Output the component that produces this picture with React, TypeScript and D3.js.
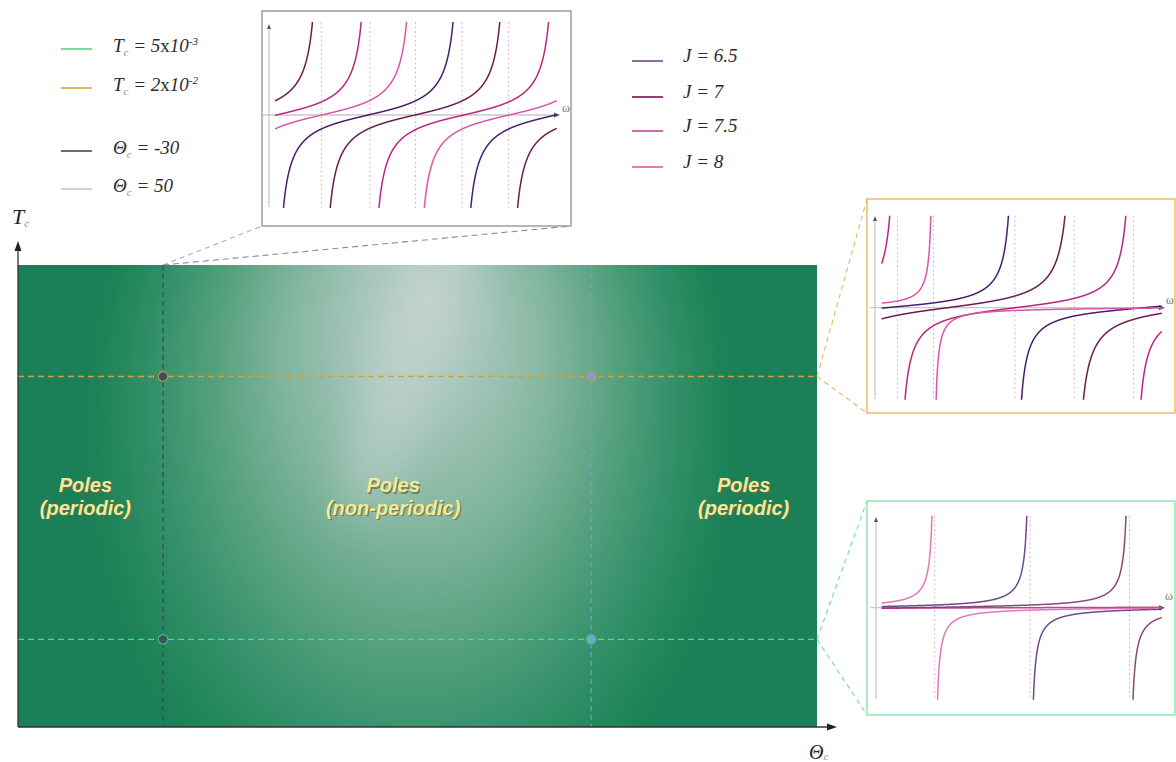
import React from "react";
import * as d3 from "d3";

const WIDTH = 1176;
const HEIGHT = 762;

// Sampled points of the (Θc, Tc) plane
const thetaValues = [-30, 50];
const tcValues = [5e-3, 2e-2];
const jValues = [6.5, 7, 7.5, 8];

// Region annotations
const regionTitles = ["Poles", "Poles", "Poles"];
const regionSubtitles = ["(periodic)", "(non-periodic)", "(periodic)"];
const regionTheta = [-44.5, 13, 78.5];

// Dispersion branches, one entry per J: y = amp * tan(pi * (w - zero) / period)
// Θc = -30 (shown above the map)
const thetaLowZero = [3.31, 4.97, 0.05, 1.66];
const thetaLowPeriod = [6.65, 6.65, 6.65, 6.65];
const thetaLowAmp = [0.15, 0.15, 0.15, 0.15];
// Tc = 2x10^-2
const tcHighZero = [9.36, 11.4, 4.775, 11.35];
const tcHighPeriod = [9.2, 9.05, 8.43, 19];
const tcHighAmp = [0.08, 0.115, 0.102, 0.0157];
// Tc = 5x10^-3
const tcLowZero = [13.05, 16.6, 5, 11.42];
const tcLowPeriod = [15.5, 15.5, 60, 19.05];
const tcLowAmp = [0.024, 0.0254, 0.02, 0.0166];

// Styling
const jColors = ["#4a1c6e", "#6c1a52", "#bb2580", "#dd55a6"];
const jLegendColors = ["#8f6ba6", "#9b3b74", "#d26aa9", "#de7bb9"];
const thetaLineColors = ["#34495c", "#7d9bcc"];
const thetaDotColors = ["#3a5064", "#7f9fd2"];
const thetaLegendColors = ["#5b6f82", "#c9d3df"];
const tcLineColors = ["#3ee38c", "#cda23a"];
const tcDotStroke = ["#2fc774", "#c49a38"];
const tcLegendColors = ["#6fe0a1", "#e6b752"];
const tcBoxColors = ["#86e3ad", "#e9b95c"];

const plotL = 18;
const plotR = 817;
const plotT = 265;
const plotB = 727;

const xTheta = d3.scaleLinear().domain([-57.1, 92.2]).range([plotL, plotR]);
const yTc = d3.scaleLinear().domain([0, 0.02636]).range([plotB, plotT]);

const MATH_FONT = "'Liberation Serif', 'DejaVu Serif', serif";
const SANS_FONT = "'Liberation Sans', Arial, sans-serif";

type InsetLayout = {
  id: string;
  bx: number;
  by: number;
  bw: number;
  bh: number;
  x0: number;
  x1: number;
  yc: number;
  half: number;
  yAxisX: number;
  yAxisTop: number;
  yAxisBot: number;
  xAxisL: number;
  xAxisR: number;
  omegaX: number;
  omegaY: number;
};

const topLayout: InsetLayout = {
  id: "thetaLow",
  bx: 262, by: 11, bw: 309, bh: 215,
  x0: 275, x1: 556.7, yc: 115, half: 93,
  yAxisX: 269, yAxisTop: 24, yAxisBot: 207,
  xAxisL: 263, xAxisR: 560,
  omegaX: 562, omegaY: 112,
};
const tcHighLayout: InsetLayout = {
  id: "tcHigh",
  bx: 867, by: 199, bw: 308, bh: 214,
  x0: 881.7, x1: 1161.7, yc: 307.7, half: 92,
  yAxisX: 875, yAxisTop: 216, yAxisBot: 399,
  xAxisL: 870, xAxisR: 1165,
  omegaX: 1166, omegaY: 304,
};
const tcLowLayout: InsetLayout = {
  id: "tcLow",
  bx: 867, by: 501, bw: 308, bh: 214,
  x0: 881.7, x1: 1161.7, yc: 607.7, half: 92,
  yAxisX: 876, yAxisTop: 517, yAxisBot: 699,
  xAxisL: 870, xAxisR: 1165,
  omegaX: 1165, omegaY: 600,
};

function Inset(props: {
  layout: InsetLayout;
  zeros: number[];
  periods: number[];
  amps: number[];
  border: string;
  curveOpacity?: number;
}) {
  const { layout: L, zeros, periods, amps, border } = props;
  const xs = d3.scaleLinear().domain([0, 10]).range([L.x0, L.x1]);
  const ys = d3.scaleLinear().domain([-1, 1]).range([L.yc + L.half, L.yc - L.half]);
  const samples = d3.range(0, 10.0001, 0.002);
  const line = d3
    .line<[number, number]>()
    .defined((d) => Math.abs(d[1]) <= 1.3)
    .x((d) => xs(d[0]))
    .y((d) => ys(d[1]));

  const asymptotes: number[] = [];
  jValues.forEach((_, i) => {
    const p = periods[i];
    const first = zeros[i] + p / 2;
    for (let k = -4; k <= 4; k++) {
      const a = first + k * p;
      if (a > 0.3 && a < 9.9) asymptotes.push(a);
    }
  });

  const clipId = `clip-${L.id}`;
  return (
    <g>
      <rect x={L.bx} y={L.by} width={L.bw} height={L.bh} fill="#ffffff" stroke={border} strokeWidth={1.4} />
      <defs>
        <clipPath id={clipId}>
          <rect x={L.x0 - 3} y={L.yc - L.half} width={L.x1 - L.x0 + 6} height={2 * L.half} />
        </clipPath>
      </defs>
      {asymptotes.map((a, i) => (
        <line
          key={`as${i}`}
          x1={xs(a)}
          x2={xs(a)}
          y1={L.yc - L.half}
          y2={L.yc + L.half}
          stroke="#dba9c8"
          strokeWidth={0.9}
          strokeDasharray="2,2.5"
        />
      ))}
      {/* axes */}
      <line x1={L.xAxisL} x2={L.xAxisR - 4} y1={L.yc} y2={L.yc} stroke="#c9c9c9" strokeWidth={1.3} />
      <path d={`M${L.xAxisR},${L.yc} l-6,-2.5 l0,5 z`} fill="#555" />
      <line x1={L.yAxisX} x2={L.yAxisX} y1={L.yAxisBot} y2={L.yAxisTop + 4} stroke="#bdbdbd" strokeWidth={1.1} />
      <path d={`M${L.yAxisX},${L.yAxisTop} l-2,5 l4,0 z`} fill="#555" />
      <text x={L.omegaX} y={L.omegaY} fontFamily={MATH_FONT} fontSize={12} fill="#777">
        ω
      </text>
      <g clipPath={`url(#${clipId})`}>
        {jValues.map((_, i) => {
          const pts: [number, number][] = samples.map((w) => [
            w,
            amps[i] * Math.tan((Math.PI * (w - zeros[i])) / periods[i]),
          ]);
          return (
            <path
              key={`c${i}`}
              d={line(pts) || ""}
              fill="none"
              stroke={jColors[i]}
              strokeOpacity={props.curveOpacity ?? 1}
              strokeWidth={1.5}
            />
          );
        })}
      </g>
    </g>
  );
}

function tcParts(v: number) {
  const exp = Math.floor(Math.log10(v) + 1e-9);
  const mant = Math.round((v / Math.pow(10, exp)) * 100) / 100;
  return { mant, exp };
}

function TcLabel(props: { x: number; y: number; value: number }) {
  const { mant, exp } = tcParts(props.value);
  return (
    <text x={props.x} y={props.y} fontFamily={MATH_FONT} fontSize={19} fill="#2b2b2b">
      <tspan fontStyle="italic">T</tspan>
      <tspan fontSize={11} dy={4} fill="#8a8a8a" fontStyle="italic">c</tspan>
      <tspan dy={-4} fontStyle="italic">{` = ${mant}`}</tspan>
      <tspan>x</tspan>
      <tspan fontStyle="italic">10</tspan>
      <tspan fontSize={11} dy={-7} fontStyle="italic">{`${exp}`}</tspan>
    </text>
  );
}

function ThetaLabel(props: { x: number; y: number; value: number }) {
  return (
    <text x={props.x} y={props.y} fontFamily={MATH_FONT} fontSize={19} fill="#2b2b2b" fontStyle="italic">
      <tspan>Θ</tspan>
      <tspan fontSize={11} dy={4} fill="#8a8a8a">c</tspan>
      <tspan dy={-4}>{` = ${props.value}`}</tspan>
    </text>
  );
}

export default function App() {
  const tcHighY = yTc(tcValues[1]);
  const tcLowY = yTc(tcValues[0]);
  const thetaLowX = xTheta(thetaValues[0]);

  const leftLegendY = [49, 88, 151, 189];
  const rightLegendY = [61, 97, 131, 167];

  return (
    <svg width={WIDTH} height={HEIGHT} style={{ display: "block", position: "absolute", left: 0, top: 0 }}>
      <defs>
        <clipPath id="mainClip">
          <rect x={plotL} y={plotT} width={plotR - plotL} height={plotB - plotT} />
        </clipPath>
        <radialGradient
          id="glow"
          gradientUnits="userSpaceOnUse"
          cx={410}
          cy={430}
          r={325}
          fx={425}
          fy={330}
          gradientTransform="translate(410 430) scale(1 1.35) translate(-410 -430)"
        >
          <stop offset="0" stopColor="#bbcec9" />
          <stop offset="0.2" stopColor="#a4c5b8" />
          <stop offset="0.42" stopColor="#80b49d" />
          <stop offset="0.62" stopColor="#55a07f" />
          <stop offset="0.8" stopColor="#33906a" />
          <stop offset="0.93" stopColor="#22855b" />
          <stop offset="1" stopColor="#1b8057" />
        </radialGradient>
        <filter id="streakBlur" x="-100%" y="-100%" width="300%" height="300%">
          <feGaussianBlur stdDeviation={22} />
        </filter>
      </defs>

      {/* phase map */}
      <g clipPath="url(#mainClip)">
        <rect x={plotL} y={plotT} width={plotR - plotL} height={plotB - plotT} fill="url(#glow)" />
        <ellipse
          cx={408}
          cy={360}
          rx={32}
          ry={160}
          fill="#cad7d4"
          opacity={0.55}
          filter="url(#streakBlur)"
          transform="rotate(18 408 360)"
        />
      </g>

      {/* sampled lines */}
      {tcValues.map((tc, i) => (
        <line
          key={`h${i}`}
          x1={plotL}
          x2={plotR}
          y1={yTc(tc)}
          y2={yTc(tc)}
          stroke={tcLineColors[i]}
          strokeWidth={1.4}
          strokeDasharray="6,4"
        />
      ))}
      {thetaValues.map((t, i) => (
        <line
          key={`v${i}`}
          x1={xTheta(t)}
          x2={xTheta(t)}
          y1={plotT}
          y2={plotB}
          stroke={thetaLineColors[i]}
          strokeWidth={1.2}
          strokeDasharray="5,4"
        />
      ))}
      {tcValues.map((tc, i) =>
        thetaValues.map((t, k) => (
          <circle
            key={`d${i}-${k}`}
            cx={xTheta(t)}
            cy={yTc(tc)}
            r={4.8}
            fill={thetaDotColors[k]}
            stroke={tcDotStroke[i]}
            strokeWidth={1.2}
          />
        ))
      )}

      {/* region labels */}
      {regionTheta.map((t, i) => (
        <g key={`r${i}`} fontFamily={SANS_FONT} fontWeight="bold" fontStyle="italic" fontSize={20} textAnchor="middle">
          <text x={xTheta(t) + 1.5} y={493.5} fill="#6a6a45" opacity={0.75}>
            <tspan x={xTheta(t) + 1.5}>{regionTitles[i]}</tspan>
            <tspan x={xTheta(t) + 1.5} dy={22.5}>{regionSubtitles[i]}</tspan>
          </text>
          <text x={xTheta(t)} y={492} fill="#f1ea96">
            <tspan x={xTheta(t)}>{regionTitles[i]}</tspan>
            <tspan x={xTheta(t)} dy={22.5}>{regionSubtitles[i]}</tspan>
          </text>
        </g>
      ))}

      {/* axes */}
      <line x1={plotL} x2={plotL} y1={plotB} y2={249} stroke="#333" strokeWidth={1.3} />
      <path d={`M${plotL},241 l-3.5,10 l7,0 z`} fill="#222" />
      <line x1={plotL} x2={828} y1={plotB} y2={plotB} stroke="#333" strokeWidth={1.3} />
      <path d={`M837,${plotB} l-10,-3.5 l0,7 z`} fill="#222" />
      <text x={12} y={224} fontFamily={MATH_FONT} fontSize={22} fontStyle="italic" fill="#222">
        <tspan>T</tspan>
        <tspan fontSize={11} dy={3} fill="#8a8a8a">c</tspan>
      </text>
      <text x={809} y={759} fontFamily={MATH_FONT} fontSize={20} fontStyle="italic" fill="#222">
        <tspan>Θ</tspan>
        <tspan fontSize={11} dy={1} fill="#8a8a8a">c</tspan>
      </text>

      {/* connectors to the insets */}
      <line x1={thetaLowX} y1={plotT} x2={topLayout.bx} y2={topLayout.by + topLayout.bh} stroke="#a3afbb" strokeWidth={1.1} strokeDasharray="5,4" />
      <line x1={thetaLowX} y1={plotT} x2={topLayout.bx + topLayout.bw} y2={topLayout.by + topLayout.bh} stroke="#7f8fa0" strokeWidth={1.1} strokeDasharray="6,4" />
      <line x1={plotR} y1={tcHighY} x2={tcHighLayout.bx} y2={tcHighLayout.by} stroke={tcLegendColors[1]} strokeWidth={1.1} strokeDasharray="5,4" />
      <line x1={plotR} y1={tcHighY} x2={tcHighLayout.bx} y2={tcHighLayout.by + tcHighLayout.bh} stroke={tcLegendColors[1]} strokeWidth={1.1} strokeDasharray="5,4" />
      <line x1={plotR} y1={tcLowY} x2={tcLowLayout.bx} y2={tcLowLayout.by} stroke={tcLegendColors[0]} strokeWidth={1.1} strokeDasharray="5,4" />
      <line x1={plotR} y1={tcLowY} x2={tcLowLayout.bx} y2={tcLowLayout.by + tcLowLayout.bh} stroke={tcLegendColors[0]} strokeWidth={1.1} strokeDasharray="5,4" />

      {/* insets */}
      <Inset layout={topLayout} zeros={thetaLowZero} periods={thetaLowPeriod} amps={thetaLowAmp} border="#8d9aa7" />
      <Inset layout={tcHighLayout} zeros={tcHighZero} periods={tcHighPeriod} amps={tcHighAmp} border={tcBoxColors[1]} />
      <Inset layout={tcLowLayout} zeros={tcLowZero} periods={tcLowPeriod} amps={tcLowAmp} border={tcBoxColors[0]} curveOpacity={0.8} />

      {/* left legend */}
      {tcValues.map((tc, i) => (
        <g key={`lt${i}`}>
          <line x1={61} x2={92} y1={leftLegendY[i]} y2={leftLegendY[i]} stroke={tcLegendColors[i]} strokeWidth={2} />
          <TcLabel x={113} y={leftLegendY[i] + 3} value={tc} />
        </g>
      ))}
      {thetaValues.map((t, i) => (
        <g key={`lth${i}`}>
          <line x1={61} x2={92} y1={leftLegendY[i + 2]} y2={leftLegendY[i + 2]} stroke={thetaLegendColors[i]} strokeWidth={2} />
          <ThetaLabel x={113} y={leftLegendY[i + 2] + 3} value={t} />
        </g>
      ))}

      {/* J legend */}
      {jValues.map((j, i) => (
        <g key={`j${i}`}>
          <line x1={632} x2={663} y1={rightLegendY[i]} y2={rightLegendY[i]} stroke={jLegendColors[i]} strokeWidth={2} />
          <text x={683} y={rightLegendY[i] + 1} fontFamily={MATH_FONT} fontSize={19} fontStyle="italic" fill="#2b2b2b">
            {`J = ${j}`}
          </text>
        </g>
      ))}
    </svg>
  );
}
